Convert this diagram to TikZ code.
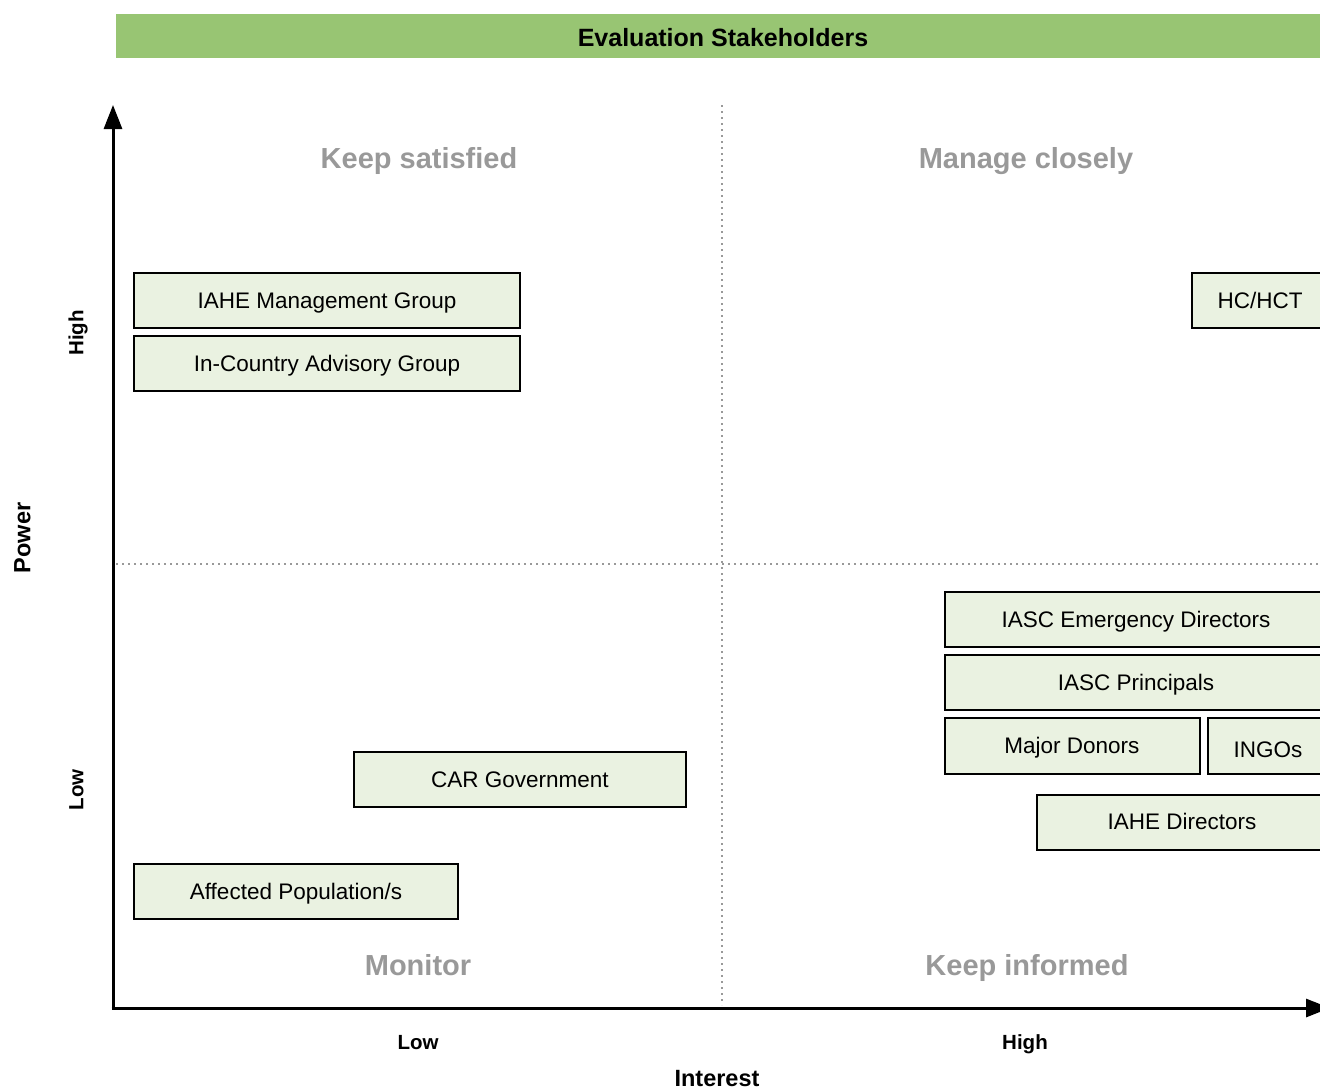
\documentclass[tikz,border=0pt]{standalone}
\usepackage{fontspec}
\setmainfont{Liberation Sans}
\usetikzlibrary{arrows.meta}
\definecolor{bargreen}{HTML}{98C573}
\definecolor{boxfill}{HTML}{EAF2E1}
\definecolor{quadgray}{HTML}{999999}
\tikzset{
  capc/.style={text height=#1, text depth=0pt, inner sep=0pt},
  stake/.style={draw=black, line width=2.6pt, fill=boxfill},
  stxt/.style={capc=16.2pt, font=\fontsize{22.5}{26}\selectfont},
  quad/.style={capc=20.9pt, text=quadgray, font=\bfseries\fontsize{29}{33}\selectfont},
  axlab/.style={capc=14.8pt, font=\bfseries\fontsize{20.5}{24}\selectfont},
  axname/.style={capc=16.9pt, font=\bfseries\fontsize{23.5}{27}\selectfont},
  axis/.style={line width=3pt, -{Triangle[length=24pt,width=18pt]}},
  divider/.style={quadgray, line width=2pt, dash pattern=on 2pt off 4pt}
}
\begin{document}
\begin{tikzpicture}[x=1pt,y=-1pt]
\useasboundingbox (0,0) rectangle (1320,1090);
\clip (0,0) rectangle (1320,1090);
% title bar
\fill[bargreen] (116,14) rectangle (1340,58);
\node[capc=18pt, font=\bfseries\fontsize{25}{29}\selectfont] (title) at (723,37) {Evaluation Stakeholders};
% dividers
\coordinate (vtop) at (722,105);
\coordinate (vbot) at (722,1005);
\coordinate (hl) at (116,564);
\coordinate (hr) at (1330,564);
\draw[divider] (vtop) -- (vbot);
\draw[divider] (hl) -- (hr);
% axes
\coordinate (origin) at (113,1008);
\coordinate (ytip) at (113,105);
\coordinate (xtip) at (1330,1008);
\draw[axis] (origin) -- (ytip);
\draw[axis] ([xshift=-1.5pt]origin) -- (xtip);
% quadrant labels
\node[quad] (ks) at (419,158) {Keep satisfied};
\node[quad] (mc) at (1026,158) {Manage closely};
\node[quad] (mo) at (418,965) {Monitor};
\node[quad] (ki) at (1027,965) {Keep informed};
% axis labels
\node[axlab] (xlow) at (418,1042) {Low};
\node[axlab] (xhigh) at (1025,1042) {High};
\node[axname] (xname) at (717,1078) {Interest};
\node[axlab, rotate=90] (yhigh) at (76,333) {High};
\node[axlab, rotate=90] (ylow) at (76,790) {Low};
\node[axname, rotate=90] (yname) at (22,538) {Power};
% stakeholder boxes
\path[stake] (134,273) rectangle (520,328);
\node[stxt] (mg) at (327,300.5) {IAHE Management Group};
\path[stake] (134,336) rectangle (520,391);
\node[stxt] (ag) at (327,363.5) {In-Country Advisory Group};
\path[stake] (1192,273) rectangle (1328,328);
\node[stxt] (hc) at (1260,300.5) {HC/HCT};
\path[stake] (945,592) rectangle (1327,647);
\node[stxt] (ed) at (1136,619.5) {IASC Emergency Directors};
\path[stake] (945,655) rectangle (1327,710);
\node[stxt] (pr) at (1136,682.5) {IASC Principals};
\path[stake] (945,718) rectangle (1200,774);
\node[stxt] (md) at (1072,745) {Major Donors};
\path[stake] (1208,718) rectangle (1328,774);
\node[stxt] (ing) at (1268,749) {INGOs};
\path[stake] (1037,795) rectangle (1327,850);
\node[stxt] (dir) at (1182,821.5) {IAHE Directors};
\path[stake] (354,752) rectangle (686,807);
\node[stxt] (car) at (520,779) {CAR Government};
\path[stake] (134,864) rectangle (458,919);
\node[stxt] (ap) at (296,891) {Affected Population/s};
\end{tikzpicture}
\end{document}
